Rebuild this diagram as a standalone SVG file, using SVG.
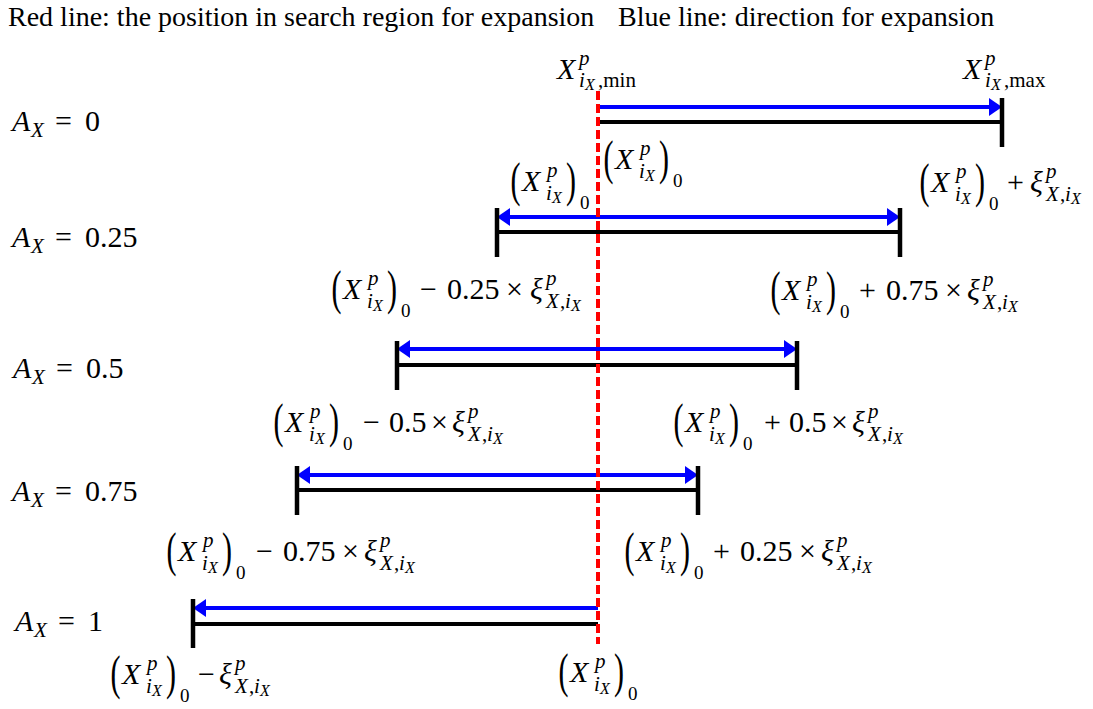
<svg xmlns="http://www.w3.org/2000/svg" width="1093" height="709" viewBox="0 0 1093 709">
<style>
text{font-family:"Liberation Serif",Tinos,"Times New Roman","DejaVu Serif",serif;fill:#000}
.hd{font-size:28px}
.mi{font-size:30px;font-style:italic}
.mu{font-size:30px;font-style:normal}
.s{font-size:21px;font-style:italic}
.su{font-size:21px;font-style:normal}
.sz{font-size:19px;font-style:normal}
.ss{font-size:16px;font-style:italic}
.par{font-size:30px;font-style:normal}
.blue{stroke:#0000ff;stroke-width:4;fill:none}
.blk{stroke:#000;stroke-width:4;fill:none}
.tick{stroke:#000;stroke-width:4.5;fill:none}
.red{stroke:#ff0000;stroke-width:4;stroke-dasharray:9 4;fill:none}
</style>
<defs>
<marker id="ah" viewBox="0 0 13 18" refX="3" refY="9" markerWidth="13" markerHeight="18" markerUnits="userSpaceOnUse" orient="auto-start-reverse"><path d="M0,0 L13,9 L0,18 z" fill="#0000ff"/></marker>
</defs>
<rect width="1093" height="709" fill="#fff"/>

<g id="header">
<text class="hd" x="8" y="26">Red line: the position in search region for expansion</text>
<text class="hd" x="618" y="26">Blue line: direction for expansion</text>
</g>

<g id="connectors">
<line class="blue" x1="598" y1="107" x2="992" y2="107" marker-end="url(#ah)"/>
<line class="blk" x1="598" y1="122" x2="1002" y2="122"/>
<line class="tick" x1="1002" y1="98" x2="1002" y2="147"/>
<line class="blue" x1="507" y1="217" x2="890" y2="217" marker-start="url(#ah)" marker-end="url(#ah)"/>
<line class="blk" x1="497" y1="232" x2="900" y2="232"/>
<line class="tick" x1="497" y1="208" x2="497" y2="257"/>
<line class="tick" x1="900" y1="208" x2="900" y2="257"/>
<line class="blue" x1="407" y1="349" x2="787" y2="349" marker-start="url(#ah)" marker-end="url(#ah)"/>
<line class="blk" x1="397" y1="365" x2="797" y2="365"/>
<line class="tick" x1="397" y1="341" x2="397" y2="390"/>
<line class="tick" x1="797" y1="341" x2="797" y2="390"/>
<line class="blue" x1="307" y1="475" x2="688" y2="475" marker-start="url(#ah)" marker-end="url(#ah)"/>
<line class="blk" x1="297" y1="490" x2="698" y2="490"/>
<line class="tick" x1="297" y1="466" x2="297" y2="515"/>
<line class="tick" x1="698" y1="466" x2="698" y2="515"/>
<line class="blue" x1="598" y1="608" x2="203" y2="608" marker-end="url(#ah)"/>
<line class="blk" x1="193" y1="624" x2="598" y2="624"/>
<line class="tick" x1="193" y1="599" x2="193" y2="648"/>
<line class="red" x1="598" y1="91" x2="598" y2="644"/>
</g>

<g id="rowlabels">
<g id="a0" transform="translate(12,131)"><text class="mi"><tspan x="0" y="0">A</tspan><tspan class="s" x="19" y="6">X</tspan></text><text class="mu"><tspan x="43" y="0">=</tspan><tspan x="73" y="0">0</tspan></text></g>
<g id="a025" transform="translate(12,247)"><text class="mi"><tspan x="0" y="0">A</tspan><tspan class="s" x="19" y="6">X</tspan></text><text class="mu"><tspan x="43" y="0">=</tspan><tspan x="73" y="0">0.25</tspan></text></g>
<g id="a05" transform="translate(13,378)"><text class="mi"><tspan x="0" y="0">A</tspan><tspan class="s" x="19" y="6">X</tspan></text><text class="mu"><tspan x="43" y="0">=</tspan><tspan x="73" y="0">0.5</tspan></text></g>
<g id="a075" transform="translate(12,501)"><text class="mi"><tspan x="0" y="0">A</tspan><tspan class="s" x="19" y="6">X</tspan></text><text class="mu"><tspan x="43" y="0">=</tspan><tspan x="73" y="0">0.75</tspan></text></g>
<g id="a1" transform="translate(15,631)"><text class="mi"><tspan x="0" y="0">A</tspan><tspan class="s" x="19" y="6">X</tspan></text><text class="mu"><tspan x="43" y="0">=</tspan><tspan x="73" y="0">1</tspan></text></g>
</g>

<g id="xmin" transform="translate(557,79)">
<text class="mi"><tspan x="0" y="0">X</tspan><tspan class="s" x="22" y="-14">p</tspan><tspan class="s" x="22" y="8">i</tspan><tspan class="ss" x="28" y="11">X</tspan><tspan class="su" x="41" y="8">,min</tspan></text>
</g>
<g id="xmax" transform="translate(963,79)">
<text class="mi"><tspan x="0" y="0">X</tspan><tspan class="s" x="22" y="-14">p</tspan><tspan class="s" x="22" y="8">i</tspan><tspan class="ss" x="28" y="11">X</tspan><tspan class="su" x="41" y="8">,max</tspan></text>
</g>

<g id="x0a" transform="translate(605,169)">
<text class="par" transform="translate(-1.5,4.5) scale(1,1.6)">(</text>
<text class="mi"><tspan x="10" y="0">X</tspan><tspan class="s" x="35" y="-14">p</tspan><tspan class="s" x="34" y="9">i</tspan><tspan class="ss" x="40" y="12">X</tspan></text>
<text class="par" transform="translate(54,4.5) scale(1,1.6)">)</text>
<text class="sz" x="68" y="18">0</text>
</g>

<g id="x0b" transform="translate(512,191)">
<text class="par" transform="translate(-1.5,4.5) scale(1,1.6)">(</text>
<text class="mi"><tspan x="10" y="0">X</tspan><tspan class="s" x="35" y="-14">p</tspan><tspan class="s" x="34" y="9">i</tspan><tspan class="ss" x="40" y="12">X</tspan></text>
<text class="par" transform="translate(54,4.5) scale(1,1.6)">)</text>
<text class="sz" x="68" y="18">0</text>
</g>

<g id="x0pxi" transform="translate(921,192)">
<text class="par" transform="translate(-1.5,4.5) scale(1,1.6)">(</text>
<text class="mi"><tspan x="10" y="0">X</tspan><tspan class="s" x="35" y="-14">p</tspan><tspan class="s" x="34" y="9">i</tspan><tspan class="ss" x="40" y="12">X</tspan></text>
<text class="par" transform="translate(54,4.5) scale(1,1.6)">)</text>
<text class="sz" x="68" y="18">0</text>
<text class="mu" x="86" y="0">+</text>
<text class="mi"><tspan x="109" y="0">ξ</tspan><tspan class="s" x="125" y="-14">p</tspan><tspan class="s" x="125" y="9">X</tspan><tspan class="su" x="139" y="9">,</tspan><tspan class="s" x="144" y="9">i</tspan><tspan class="ss" x="150" y="12">X</tspan></text>
</g>

<g id="x025l" transform="translate(333,299)">
<text class="par" transform="translate(-1.5,4.5) scale(1,1.6)">(</text>
<text class="mi"><tspan x="10" y="0">X</tspan><tspan class="s" x="35" y="-14">p</tspan><tspan class="s" x="34" y="9">i</tspan><tspan class="ss" x="40" y="12">X</tspan></text>
<text class="par" transform="translate(54,4.5) scale(1,1.6)">)</text>
<text class="sz" x="68" y="18">0</text>
<text class="mu"><tspan x="87" y="0">−</tspan><tspan x="114" y="0">0.25</tspan><tspan x="173" y="0">×</tspan></text>
<text class="mi"><tspan x="197" y="0">ξ</tspan><tspan class="s" x="213" y="-14">p</tspan><tspan class="s" x="213" y="9">X</tspan><tspan class="su" x="227" y="9">,</tspan><tspan class="s" x="232" y="9">i</tspan><tspan class="ss" x="238" y="12">X</tspan></text>
</g>

<g id="x025r" transform="translate(772,300)">
<text class="par" transform="translate(-1.5,4.5) scale(1,1.6)">(</text>
<text class="mi"><tspan x="10" y="0">X</tspan><tspan class="s" x="35" y="-14">p</tspan><tspan class="s" x="34" y="9">i</tspan><tspan class="ss" x="40" y="12">X</tspan></text>
<text class="par" transform="translate(54,4.5) scale(1,1.6)">)</text>
<text class="sz" x="68" y="18">0</text>
<text class="mu"><tspan x="87" y="0">+</tspan><tspan x="114" y="0">0.75</tspan><tspan x="173" y="0">×</tspan></text>
<text class="mi"><tspan x="195" y="0">ξ</tspan><tspan class="s" x="211" y="-14">p</tspan><tspan class="s" x="211" y="9">X</tspan><tspan class="su" x="225" y="9">,</tspan><tspan class="s" x="230" y="9">i</tspan><tspan class="ss" x="236" y="12">X</tspan></text>
</g>

<g id="x05l" transform="translate(275,432)">
<text class="par" transform="translate(-1.5,4.5) scale(1,1.6)">(</text>
<text class="mi"><tspan x="10" y="0">X</tspan><tspan class="s" x="35" y="-14">p</tspan><tspan class="s" x="34" y="9">i</tspan><tspan class="ss" x="40" y="12">X</tspan></text>
<text class="par" transform="translate(54,4.5) scale(1,1.6)">)</text>
<text class="sz" x="68" y="18">0</text>
<text class="mu"><tspan x="88" y="0">−</tspan><tspan x="114" y="0">0.5</tspan><tspan x="156" y="0">×</tspan></text>
<text class="mi"><tspan x="177" y="0">ξ</tspan><tspan class="s" x="193" y="-14">p</tspan><tspan class="s" x="193" y="9">X</tspan><tspan class="su" x="207" y="9">,</tspan><tspan class="s" x="212" y="9">i</tspan><tspan class="ss" x="218" y="12">X</tspan></text>
</g>

<g id="x05r" transform="translate(675,432)">
<text class="par" transform="translate(-1.5,4.5) scale(1,1.6)">(</text>
<text class="mi"><tspan x="10" y="0">X</tspan><tspan class="s" x="35" y="-14">p</tspan><tspan class="s" x="34" y="9">i</tspan><tspan class="ss" x="40" y="12">X</tspan></text>
<text class="par" transform="translate(54,4.5) scale(1,1.6)">)</text>
<text class="sz" x="68" y="18">0</text>
<text class="mu"><tspan x="89" y="0">+</tspan><tspan x="114" y="0">0.5</tspan><tspan x="156" y="0">×</tspan></text>
<text class="mi"><tspan x="177" y="0">ξ</tspan><tspan class="s" x="193" y="-14">p</tspan><tspan class="s" x="193" y="9">X</tspan><tspan class="su" x="207" y="9">,</tspan><tspan class="s" x="212" y="9">i</tspan><tspan class="ss" x="218" y="12">X</tspan></text>
</g>

<g id="x075l" transform="translate(168,561)">
<text class="par" transform="translate(-1.5,4.5) scale(1,1.6)">(</text>
<text class="mi"><tspan x="10" y="0">X</tspan><tspan class="s" x="35" y="-14">p</tspan><tspan class="s" x="34" y="9">i</tspan><tspan class="ss" x="40" y="12">X</tspan></text>
<text class="par" transform="translate(54,4.5) scale(1,1.6)">)</text>
<text class="sz" x="68" y="18">0</text>
<text class="mu"><tspan x="88" y="0">−</tspan><tspan x="115" y="0">0.75</tspan><tspan x="174" y="0">×</tspan></text>
<text class="mi"><tspan x="196" y="0">ξ</tspan><tspan class="s" x="212" y="-14">p</tspan><tspan class="s" x="212" y="9">X</tspan><tspan class="su" x="226" y="9">,</tspan><tspan class="s" x="231" y="9">i</tspan><tspan class="ss" x="237" y="12">X</tspan></text>
</g>

<g id="x075r" transform="translate(626,561)">
<text class="par" transform="translate(-1.5,4.5) scale(1,1.6)">(</text>
<text class="mi"><tspan x="10" y="0">X</tspan><tspan class="s" x="35" y="-14">p</tspan><tspan class="s" x="34" y="9">i</tspan><tspan class="ss" x="40" y="12">X</tspan></text>
<text class="par" transform="translate(54,4.5) scale(1,1.6)">)</text>
<text class="sz" x="68" y="18">0</text>
<text class="mu"><tspan x="87" y="0">+</tspan><tspan x="114" y="0">0.25</tspan><tspan x="173" y="0">×</tspan></text>
<text class="mi"><tspan x="195" y="0">ξ</tspan><tspan class="s" x="211" y="-14">p</tspan><tspan class="s" x="211" y="9">X</tspan><tspan class="su" x="225" y="9">,</tspan><tspan class="s" x="230" y="9">i</tspan><tspan class="ss" x="236" y="12">X</tspan></text>
</g>

<g id="x1l" transform="translate(112,684)">
<text class="par" transform="translate(-1.5,4.5) scale(1,1.6)">(</text>
<text class="mi"><tspan x="10" y="0">X</tspan><tspan class="s" x="35" y="-14">p</tspan><tspan class="s" x="34" y="9">i</tspan><tspan class="ss" x="40" y="12">X</tspan></text>
<text class="par" transform="translate(54,4.5) scale(1,1.6)">)</text>
<text class="sz" x="68" y="18">0</text>
<text class="mu" x="86" y="0">−</text>
<text class="mi"><tspan x="107" y="0">ξ</tspan><tspan class="s" x="123" y="-14">p</tspan><tspan class="s" x="123" y="9">X</tspan><tspan class="su" x="137" y="9">,</tspan><tspan class="s" x="142" y="9">i</tspan><tspan class="ss" x="148" y="12">X</tspan></text>
</g>

<g id="x1c" transform="translate(560,682)">
<text class="par" transform="translate(-1.5,4.5) scale(1,1.6)">(</text>
<text class="mi"><tspan x="10" y="0">X</tspan><tspan class="s" x="35" y="-14">p</tspan><tspan class="s" x="34" y="9">i</tspan><tspan class="ss" x="40" y="12">X</tspan></text>
<text class="par" transform="translate(54,4.5) scale(1,1.6)">)</text>
<text class="sz" x="68" y="18">0</text>
</g>
</svg>
